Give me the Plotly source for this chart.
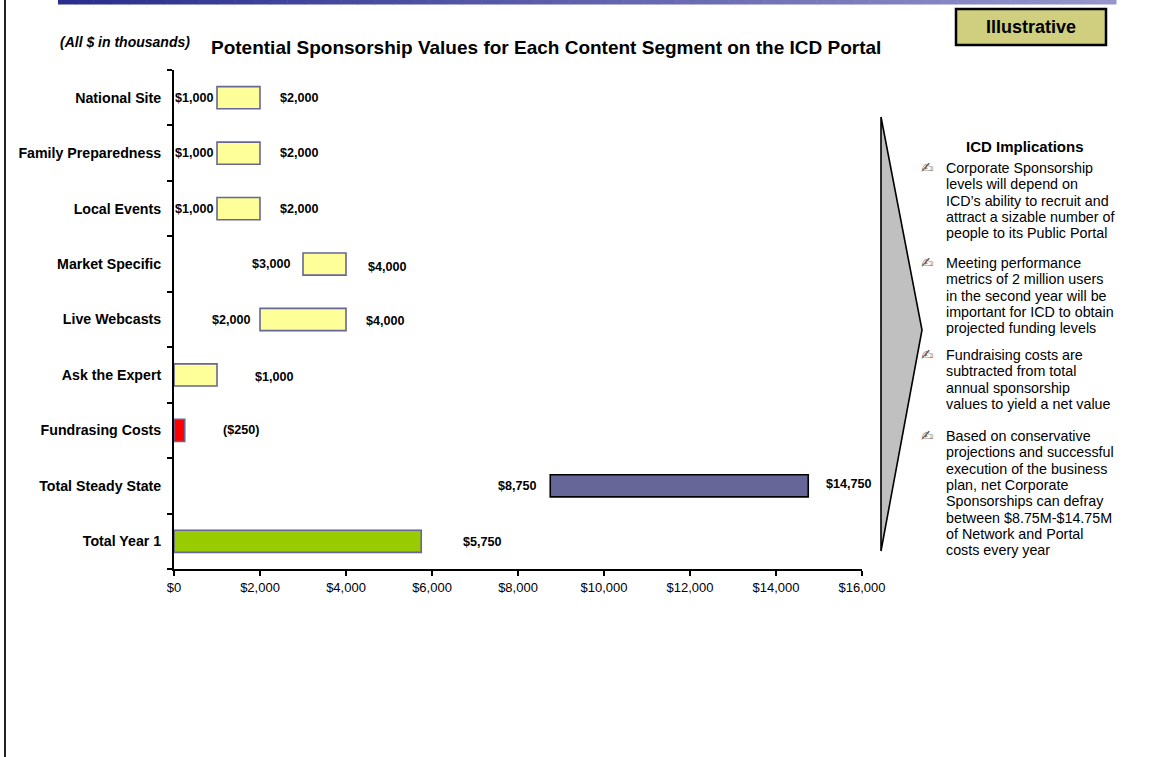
import plotly.graph_objects as go

# ---------------- data ----------------
categories = ["National Site", "Family Preparedness", "Local Events", "Market Specific",
              "Live Webcasts", "Ask the Expert", "Fundrasing Costs", "Total Steady State",
              "Total Year 1"]
low_values = [1000, 1000, 1000, 3000, 2000, 0, 0, 8750, 0]
high_values = [2000, 2000, 2000, 4000, 4000, 1000, 250, 14750, 5750]
low_labels = ["$1,000", "$1,000", "$1,000", "$3,000", "$2,000", "", "", "$8,750", ""]
high_labels = ["$2,000", "$2,000", "$2,000", "$4,000", "$4,000", "$1,000", "($250)", "$14,750", "$5,750"]
x_ticks = [0, 2000, 4000, 6000, 8000, 10000, 12000, 14000, 16000]
x_tick_labels = ["$0", "$2,000", "$4,000", "$6,000", "$8,000", "$10,000", "$12,000", "$14,000", "$16,000"]

bullets = [
    ["Corporate Sponsorship", "levels will depend on", "ICD\u2019s ability to recruit and",
     "attract a sizable number of", "people to its Public Portal"],
    ["Meeting performance", "metrics of 2 million users", "in the second year will be",
     "important for ICD to obtain", "projected funding levels"],
    ["Fundraising costs are", "subtracted from total", "annual sponsorship",
     "values to yield a net value"],
    ["Based on conservative", "projections and successful", "execution of the business",
     "plan, net Corporate", "Sponsorships can defray", "between $8.75M-$14.75M",
     "of Network and Portal", "costs every year"],
]

# ---------------- styles ----------------
bar_fill = ["#FFFF99"] * 6 + ["#FF0000", "#666699", "#99CC00"]
bar_line = ["#666699"] * 7 + ["#000000", "#666699"]
right_gap = [18, 18, 18, 20, 18, 36, 36, 16, 40]
left_gap = [1, 1, 1, 10, 7, 0, 0, 11, 0]
right_dy = [0, 0, 0, -3, -1, -2, 0, 2, -1]

FONT = "Liberation Sans, Arial, sans-serif"
W, H = 1150, 757
L, R, T, B = 174, 862, 70, 569


def px(x):
    return (x - L) / (R - L)


def py(y):
    return (B - y) / (B - T)


fig = go.Figure()
fig.add_trace(go.Bar(
    y=categories,
    x=[h - l for h, l in zip(high_values, low_values)],
    base=low_values,
    orientation="h",
    width=0.4,
    marker=dict(color=bar_fill, line=dict(color=bar_line, width=1.6)),
    hoverinfo="skip",
    showlegend=False,
))

ann = []
for i, c in enumerate(categories):
    if high_labels[i]:
        ann.append(dict(x=high_values[i], y=c, xref="x", yref="y", text="<b>%s</b>" % high_labels[i],
                        showarrow=False, xanchor="left", yanchor="middle", xshift=right_gap[i],
                        yshift=right_dy[i], font=dict(family=FONT, size=12.6, color="black")))
    if low_labels[i]:
        ann.append(dict(x=low_values[i], y=c, xref="x", yref="y", text="<b>%s</b>" % low_labels[i],
                        showarrow=False, xanchor="right", yanchor="middle", xshift=-left_gap[i],
                        font=dict(family=FONT, size=12.6, color="black")))

# titles
ann.append(dict(x=px(546), y=py(47), xref="paper", yref="paper", showarrow=False,
                text="<b>Potential Sponsorship Values for Each Content Segment on the ICD Portal</b>",
                xanchor="center", yanchor="middle", font=dict(family=FONT, size=19, color="black")))
ann.append(dict(x=px(58), y=py(42), xref="paper", yref="paper", showarrow=False,
                text="<b><i>(All $ in thousands)</i></b>", xanchor="left", yanchor="middle",
                font=dict(family=FONT, size=14, color="black")))
ann.append(dict(x=px(1031), y=py(27), xref="paper", yref="paper", showarrow=False,
                text="<b>Illustrative</b>", xanchor="center", yanchor="middle",
                font=dict(family=FONT, size=18, color="black")))
ann.append(dict(x=px(1025), y=py(146), xref="paper", yref="paper", showarrow=False,
                text="<b>ICD Implications</b>", xanchor="center", yanchor="middle",
                font=dict(family=FONT, size=15, color="black")))

starts = [168, 263, 355, 436]
LS = 16.3
for b, lines in enumerate(bullets):
    y0 = starts[b]
    ann.append(dict(x=px(927), y=py(y0), xref="paper", yref="paper", showarrow=False,
                    text="\u270d", xanchor="center", yanchor="middle",
                    font=dict(family="DejaVu Sans", size=15, color="#555555")))
    for k, t in enumerate(lines):
        ann.append(dict(x=px(944), y=py(y0 + k * LS), xref="paper", yref="paper", showarrow=False,
                        text=t, xanchor="left", yanchor="middle",
                        font=dict(family=FONT, size=14.3, color="black")))

shapes = []
# top gradient rule
n = 60
x0, x1 = 58, 1116
c0, c1 = (42, 46, 140), (150, 150, 205)
for k in range(n):
    f = k / (n - 1)
    col = "rgb(%d,%d,%d)" % tuple(int(a + (b2 - a) * f) for a, b2 in zip(c0, c1))
    shapes.append(dict(type="rect", xref="paper", yref="paper",
                       x0=px(x0 + (x1 - x0) * k / n), x1=px(x0 + (x1 - x0) * (k + 1) / n + 0.5),
                       y0=py(4.5), y1=py(0), fillcolor=col, line=dict(width=0), layer="above"))
# left border
shapes.append(dict(type="line", xref="paper", yref="paper", x0=px(5), x1=px(5), y0=py(0), y1=py(757),
                   line=dict(color="#222222", width=2)))
# illustrative box
shapes.append(dict(type="rect", xref="paper", yref="paper", x0=px(956), x1=px(1106), y0=py(45), y1=py(9),
                   fillcolor="#CFCF7F", line=dict(color="black", width=2.5)))
# chevron
path = "M %f,%f L %f,%f L %f,%f Z" % (px(881), py(117), px(922), py(330), px(881), py(551))
shapes.append(dict(type="path", xref="paper", yref="paper", path=path, fillcolor="#C0C0C0",
                   line=dict(color="black", width=1.6)))

fig.update_layout(
    width=W, height=H,
    margin=dict(l=L, r=W - R, t=T, b=H - B, pad=0),
    paper_bgcolor="white", plot_bgcolor="white",
    bargap=0.6,
    xaxis=dict(range=[0, 16000], tickvals=x_ticks, ticktext=x_tick_labels,
               showgrid=False, zeroline=False, showline=True, linecolor="black", linewidth=2,
               ticks="outside", ticklen=5, tickwidth=2, tickcolor="black",
               tickfont=dict(family=FONT, size=13, color="black"), fixedrange=True),
    yaxis=dict(categoryorder="array", categoryarray=categories, autorange="reversed",
               showgrid=False, zeroline=False, showline=True, linecolor="black", linewidth=2,
               ticks="outside", ticklen=5, tickwidth=2, tickcolor="black", tickson="boundaries",
               tickfont=dict(family=FONT, size=14.2, color="black"), fixedrange=True,
               ticklabelstandoff=8),
    annotations=ann,
    shapes=shapes,
    font=dict(family=FONT),
)
fig.update_yaxes(ticktext=["<b>%s</b>" % c for c in categories], tickvals=categories)

fig.write_html("out.html", config={"displayModeBar": False},
               post_script="document.body.style.margin='0px';document.body.style.overflow='hidden';")
